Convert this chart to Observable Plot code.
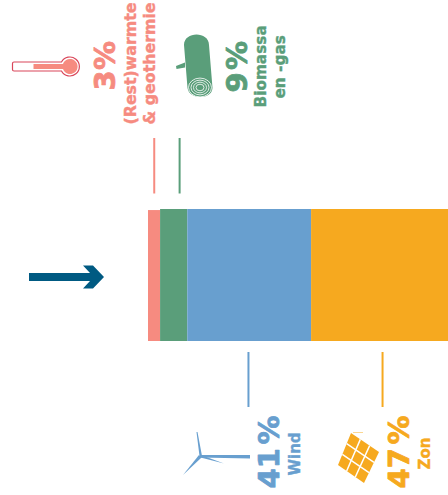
<!DOCTYPE html>
<html><head><meta charset="utf-8">
<script src="https://cdn.jsdelivr.net/npm/d3@7"></script>
<script src="https://cdn.jsdelivr.net/npm/@observablehq/plot@0.6"></script>
<style>html,body{margin:0;padding:0;background:#fff;overflow:hidden}svg{display:block}</style>
</head><body><div id="c"></div>
<script>
const sources = ["(Rest)warmte & geothermie","Biomassa en -gas","Wind","Zon"];
const barWidths = [4,9,41,47];
const numberLabels = ["3","9","41","47"];
const colors = ["#f68b80","#5a9e7a","#689fcf","#f6a91f"];
const leaderAt = [1.9,10.3,33.1,77.5];
const nameLines = [["(Rest)warmte","& geothermie"],["Biomassa","en -gas"],["Wind"],["Zon"]];

let acc = 0;
const segments = sources.map((s,i)=>{const r={source:s,x1:acc,x2:acc+barWidths[i],color:colors[i],top:i===0?0.992:1};acc+=barWidths[i];return r;});

// text placement, in page pixels
const W=448,H=495;
const numText = [{x:105,y:90,i:0},{x:237,y:92,i:1},{x:269.500,y:488,i:2},{x:399.500,y:488,i:3}];
const pctText = [{x:105,y:69.500,i:0,s:1},{x:237,y:69.500,i:1,s:1},{x:269.500,y:444,i:2,s:.82},{x:399.500,y:444,i:3,s:.82}];
const nameText = [
 {x:130,y:124,t:nameLines[0][0],i:0,f:15.8},{x:149,y:124,t:nameLines[0][1],i:0,f:15.8},
 {x:261,y:107,t:nameLines[1][0],i:1,f:15.3},{x:280,y:98,t:nameLines[1][1],i:1,f:15.3},
 {x:294.500,y:475,t:nameLines[2][0],i:2,f:15},{x:424.500,y:469,t:nameLines[3][0],i:3,f:15}];

const px = d3.scaleLinear().domain([0,100]).range([148,450]);
const py = d3.scaleLinear().domain([0,1]).range([341,209]);

function icons(){
  const g=d3.create("svg:g");
  // arrow
  g.append("path").attr("fill","#005a82").attr("d","M29 273H90L83 265.500H93L104 277L93 288.500H83L90 281H29Z");
  // thermometer
  const th=g.append("g");
  th.append("path").attr("d","M14 62H61.500A9.500 9.500 0 1 1 61.500 71H14Q12.500 71 12.500 69.500V63.500Q12.500 62 14 62Z").attr("fill","#fff").attr("stroke","#d9475b").attr("stroke-width",1.2);
  th.append("path").attr("d","M33.500 64H63A7.500 7.500 0 1 1 63 69H33.500Z").attr("fill","#f68b80");
  // log
  const lg=g.append("g").attr("fill","#5a9e7a");
  lg.append("path").attr("d","M184 45C184 31 209 31 209 45L212.500 88C212 100 189 100 187.500 88Z");
  lg.append("path").attr("d","M176 66L185 62.500V67.500L176.500 69Z");
  [11.500,9,6.500,4].forEach(r=>lg.append("ellipse").attr("cx",200).attr("cy",87.500).attr("rx",r).attr("ry",r*.82).attr("fill","none").attr("stroke","#fff").attr("stroke-width",.8));
  // turbine
  const tb=g.append("g").attr("fill","#689fcf");
  tb.append("path").attr("d","M200 455L250 455V458.500L200 457.500Z");
  tb.append("path").attr("d","M199.500 456L196.500 432L197.500 432L202 456Z");
  tb.append("path").attr("d","M199 455L201.500 457.500L183 475Z");
  tb.append("path").attr("d","M201 455L224 463.500L200.500 457.500Z");
  // solar panel
  const c=[[351,433],[379,452],[364,483],[338,465]];
  const lerp=(a,b,t)=>[a[0]+(b[0]-a[0])*t,a[1]+(b[1]-a[1])*t];
  const s=g.append("g");
  s.append("path").attr("d","M"+c.join("L")+"Z").attr("fill","#f6a91f");
  s.append("path").attr("d","M353 432.500L363 432.500").attr("stroke","#fbd792").attr("stroke-width",1);
  [1/3,2/3].forEach(t=>{
    const a=lerp(c[0],c[1],t),b=lerp(c[3],c[2],t),d=lerp(c[0],c[3],t),e=lerp(c[1],c[2],t);
    s.append("path").attr("d",`M${a}L${b}M${d}L${e}`).attr("stroke","#fff").attr("stroke-width",1.5);
  });
  return g.node();
}

const textMark=(data,opts)=>Plot.text(data,{x:d=>d.x,y:d=>d.y,rotate:-90,textAnchor:"start",fontFamily:"DejaVu Sans",fontWeight:"bold",fill:d=>colors[d.i],stroke:d=>colors[d.i],strokeWidth:.4,lineAnchor:"middle",...opts});
const inv=d=>({...d,x:px.invert(d.x),y:py.invert(d.y)});

const plot = Plot.plot({
  width:W,height:H,margin:0,
  x:{domain:[0,100],range:[148,450],axis:null},
  y:{domain:[0,1],range:[341,209],axis:null},
  color:{type:"identity"},
  marks:[
    Plot.rectY(segments,{x1:"x1",x2:"x2",y1:0,y2:"top",fill:"color"}),
    Plot.ruleX(leaderAt.slice(0,2),{x:d=>d,y1:py.invert(193.500),y2:py.invert(138),stroke:(d,i)=>colors[i],strokeWidth:2}),
    Plot.ruleX(leaderAt.slice(2),{x:d=>d,y1:py.invert(407),y2:py.invert(352),stroke:(d,i)=>colors[i+2],strokeWidth:2}),
    textMark(numText.map(inv),{text:d=>numberLabels[d.i],fontSize:29,strokeWidth:.8}),
    textMark(pctText.map(inv),{text:()=>"%",fontSize:29,strokeWidth:.8,ariaLabel:"pct"}),
    textMark(nameText.map(inv),{text:d=>d.t,fontSize:d=>d.f}),
    icons
  ]
});
d3.select(plot).selectAll('g[aria-label="pct"] text').each(function(d,k){
  const t=this.getAttribute("transform")||"";
  this.setAttribute("transform",t+` scale(${pctText[k].s},1)`);
});
document.getElementById("c").appendChild(plot);
</script></body></html>
